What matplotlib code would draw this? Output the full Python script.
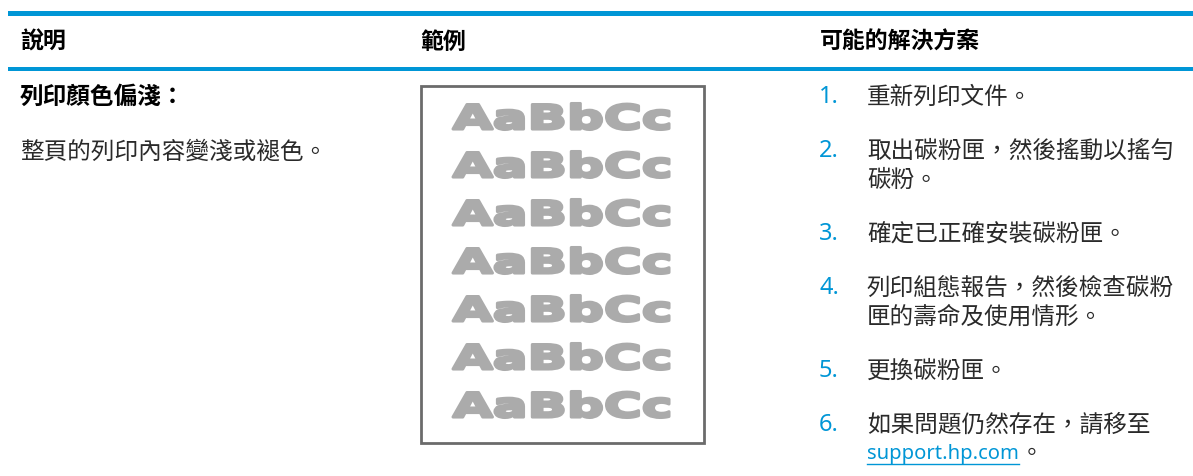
import matplotlib.pyplot as plt
from matplotlib.patches import Rectangle, PathPatch
from matplotlib.textpath import TextPath
from matplotlib.font_manager import FontProperties
from matplotlib.transforms import Affine2D

# table content
headers = ['說明', '範例', '可能的解決方案']
issue_title = '列印顏色偏淺：'
issue_desc = '整頁的列印內容變淺或褪色。'
sample_text = 'AaBbCc'
sample_rows = 7
solutions = [
    ['重新列印文件。'],
    ['取出碳粉匣，然後搖動以搖勻', '碳粉。'],
    ['確定已正確安裝碳粉匣。'],
    ['列印組態報告，然後檢查碳粉', '匣的壽命及使用情形。'],
    ['更換碳粉匣。'],
    ['如果問題仍然存在，請移至'],
]
link_text = 'support.hp.com'
link_tail = '。'

HP_BLUE = '#0096D6'
TXT = '#2a2a2a'
CJK = ['Noto Sans CJK TC', 'DejaVu Sans']

fig = plt.figure(figsize=(11.93, 4.77), dpi=100)
ax = fig.add_axes([0, 0, 1, 1])
ax.set_xlim(0, 1193)
ax.set_ylim(477, 0)
ax.axis('off')

# header rules
ax.add_patch(Rectangle((8, 12), 1185, 5, color=HP_BLUE, lw=0))
ax.add_patch(Rectangle((8, 68), 1185, 3.5, color=HP_BLUE, lw=0))

col_x = [20, 420, 820]
for x, h in zip(col_x, headers):
    ax.text(x, 42, h, family=CJK, fontsize=16.5, weight='bold',
            color='black', va='center', ha='left')

# description column
ax.text(20, 97, issue_title, family=CJK, fontsize=17, weight='bold',
        color='black', va='center', ha='left')
ax.text(20, 152, issue_desc, family=CJK, fontsize=17, color=TXT,
        va='center', ha='left')

# sample page
ax.add_patch(Rectangle((421, 86.5), 283, 357.5, fill=False,
                       ec='#6b6b6b', lw=2))
prop = FontProperties(family='DejaVu Sans', weight='bold')
tp = TextPath((0, 0), sample_text, size=100, prop=prop)
ext = tp.get_extents()
x0, x1 = 453, 669
top0, row_step, cap_h = 104.5, 48, 26
for i in range(sample_rows):
    top = top0 + i * row_step
    sx = (x1 - x0) / ext.width
    sy = cap_h / ext.height
    tr = (Affine2D().translate(-ext.x0, -ext.y0)
          .scale(sx, -sy).translate(x0, top + cap_h))
    ax.add_patch(PathPatch(tr.transform_path(tp), fc='#ababab',
                           ec='#ababab', lw=2.2, joinstyle='round'))

# solutions list
y = 97
line_h, item_gap = 29, 25
for n, lines in enumerate(solutions, start=1):
    ax.text(819, y, f'{n}.', family=['Noto Sans', 'DejaVu Sans'],
            fontsize=17, color=HP_BLUE, va='center', ha='left')
    for ln in lines:
        ax.text(867, y, ln, family=CJK, fontsize=17, color=TXT,
                va='center', ha='left')
        y += line_h
    if n < len(solutions):
        y += item_gap

# link line
lt = ax.text(867, y, link_text, family=['Noto Sans', 'DejaVu Sans'],
             fontsize=14.5, color=HP_BLUE, va='center', ha='left')
fig.canvas.draw()
bb = lt.get_window_extent().transformed(ax.transData.inverted())
ax.plot([bb.x0, bb.x1], [y + 11, y + 11], color=HP_BLUE, lw=1)
ax.text(bb.x1 + 1, y, link_tail, family=CJK, fontsize=17, color=TXT,
        va='center', ha='left')

fig.savefig('out.png', dpi=100, facecolor='white')
